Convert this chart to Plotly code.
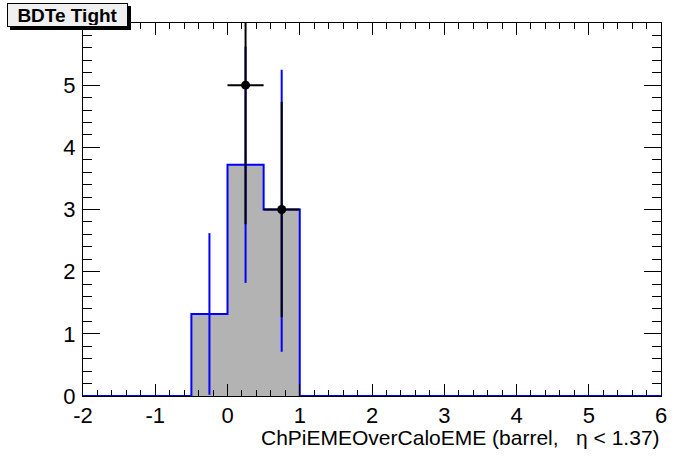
import plotly.graph_objects as go

# ---- data ----
bin_edges = [-2.0, -1.5, -1.0, -0.5, 0.0, 0.5, 1.0, 1.5, 2.0, 2.5, 3.0, 3.5,
             4.0, 4.5, 5.0, 5.5, 6.0]
mc_counts = [0, 0, 0, 1.32, 3.72, 3.0, 0, 0, 0, 0, 0, 0, 0, 0, 0, 0]
mc_err_x = [-0.25, 0.25, 0.75]
mc_err_val = [1.32, 3.72, 2.98]
mc_err = [1.30, 1.90, 2.27]
data_x = [0.25, 0.75]
data_y = [5, 3]
data_err = [2.236, 1.732]
data_xerr = [0.25, 0.25]
x_tickvals = [-2, -1, 0, 1, 2, 3, 4, 5, 6]
x_ticktext = ["-2", "-1", "0", "1", "2", "3", "4", "5", "6"]
y_tickvals = [0, 1, 2, 3, 4, 5]
y_ticktext = ["0", "1", "2", "3", "4", "5"]
title_text = "BDTe Tight"
x_title = "ChPiEMEOverCaloEME (barrel,\u00a0\u00a0 η < 1.37)"

FONT = "Liberation Sans, Arial, Helvetica, sans-serif"
W, H = 696, 472
PL, PR, PT, PB = 83, 661, 23, 396  # plot area in page pixels
L, R, T, B = PL, W - PR, PT, H - PB
pw, ph = PR - PL, PB - PT

def px(xp):
    return (xp - PL) / pw

def py(yp):
    return (PB - yp) / ph

fig = go.Figure()

# MC histogram (step, filled)
fig.add_trace(go.Scatter(
    x=bin_edges, y=mc_counts + [mc_counts[-1]],
    mode="lines", line=dict(color="#0000ff", width=2, shape="hv"),
    fill="tozeroy", fillcolor="#b3b3b3", hoverinfo="skip", showlegend=False))

# MC error bars
fig.add_trace(go.Scatter(
    x=mc_err_x, y=mc_err_val, mode="markers",
    marker=dict(size=1, color="rgba(0,0,0,0)"),
    error_y=dict(type="data", array=mc_err, visible=True, color="#0000ff",
                 thickness=2, width=0),
    showlegend=False))

# Data points
fig.add_trace(go.Scatter(
    x=data_x, y=data_y, mode="markers",
    marker=dict(size=9, color="black", symbol="circle"),
    error_y=dict(type="data", array=data_err, visible=True, color="black",
                 thickness=2, width=0),
    error_x=dict(type="data", array=data_xerr, visible=True, color="black",
                 thickness=2, width=0),
    showlegend=False, cliponaxis=True))

axis_common = dict(showline=True, linecolor="black", linewidth=1, mirror="ticks",
                   ticks="inside", tickcolor="black", tickwidth=1,
                   showgrid=False, zeroline=False, tickmode="array",
                   tickfont=dict(family=FONT, size=22, color="black"))

fig.update_xaxes(range=[-2, 6], tickvals=x_tickvals, ticktext=x_ticktext, ticklen=12,
                 minor=dict(dtick=0.2, tick0=-2, ticklen=6, ticks="inside",
                            tickcolor="black", tickwidth=1),
                 ticklabelstandoff=0,
                 **axis_common)
fig.update_yaxes(range=[0, 6], tickvals=y_tickvals, ticktext=y_ticktext, ticklen=17,
                 minor=dict(dtick=0.2, tick0=0, ticklen=9, ticks="inside",
                            tickcolor="black", tickwidth=1),
                 ticklabelstandoff=2,
                 **axis_common)

# title box shadow
fig.add_shape(type="rect", xref="paper", yref="paper",
              x0=px(10), x1=px(131), y0=py(30), y1=py(6),
              fillcolor="black", line=dict(width=0), layer="above")

fig.update_layout(
    width=W, height=H,
    margin=dict(l=L, r=R, t=T, b=B, autoexpand=False),
    paper_bgcolor="white", plot_bgcolor="white",
    annotations=[
        dict(text="<b>%s</b>" % title_text, xref="paper", yref="paper",
             x=px(7), y=py(3), xanchor="left", yanchor="top", showarrow=False,
             font=dict(family=FONT, size=19, color="black"),
             bgcolor="#f0f0f0", bordercolor="black", borderwidth=1, borderpad=1,
             width=117, height=20),
        dict(text=x_title, xref="paper", yref="paper",
             x=1.0, y=py(437), xanchor="right", yanchor="middle", showarrow=False,
             borderpad=0,
             font=dict(family=FONT, size=21, color="black")),
    ],
)

fig.write_html("out.html", config={"displayModeBar": False},
               post_script="document.body.style.margin='0';")
